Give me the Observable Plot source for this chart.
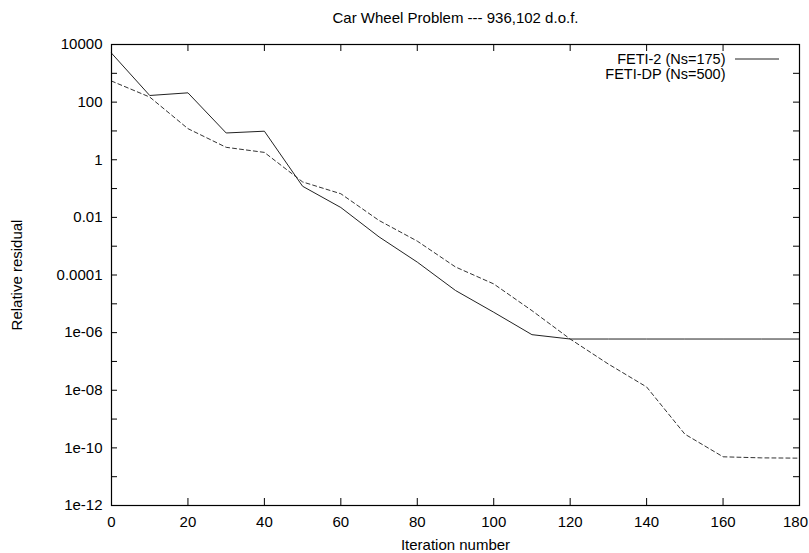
<!DOCTYPE html>
<html>
<head>
<meta charset="utf-8">
<script src="https://cdn.jsdelivr.net/npm/d3@7"></script>
<script src="https://cdn.jsdelivr.net/npm/@observablehq/plot@0.6"></script>
<style>
  html, body { margin: 0; padding: 0; background: #fff; }
  #chart svg { display: block; }
</style>
</head>
<body>
<div id="chart"></div>
<script>
const iterations = [0, 10, 20, 30, 40, 50, 60, 70, 80, 90, 100, 110, 120, 130, 140, 150, 160, 170, 180];
const feti2 = [5000, 170, 210, 8.5, 9.8, 0.12, 0.022, 0.0021, 2.8e-4, 2.9e-5, 5.1e-6, 8.5e-7, 6.0e-7, 6.0e-7, 6.0e-7, 6.0e-7, 6.0e-7, 6.0e-7, 6.0e-7];
const fetiDP = [540, 150, 12, 2.7, 1.8, 0.17, 0.066, 0.0078, 0.0015, 1.9e-4, 4.9e-5, 5.8e-6, 6.0e-7, 8.1e-8, 1.3e-8, 3.0e-10, 4.9e-11, 4.5e-11, 4.4e-11];
const seriesNames = ["FETI-2 (Ns=175)", "FETI-DP (Ns=500)"];
const xTicks = [0, 20, 40, 60, 80, 100, 120, 140, 160, 180];
const yTickValues = [1e4, 1e2, 1, 1e-2, 1e-4, 1e-6, 1e-8, 1e-10, 1e-12];
const yTickLabels = ["10000", "100", "1", "0.01", "0.0001", "1e-06", "1e-08", "1e-10", "1e-12"];
const yMinorTicks = [1e3, 1e1, 1e-1, 1e-3, 1e-5, 1e-7, 1e-9, 1e-11];
const titleText = "Car Wheel Problem --- 936,102 d.o.f.";
const xLabel = "Iteration number";
const yLabel = "Relative residual";

const W = 809, H = 553;
const mL = 111, mR = 10, mT = 44, mB = 48;
const innerW = W - mL - mR, innerH = H - mT - mB;
const tickLen = 6;

const dataA = iterations.map((x, i) => ({x, y: feti2[i]}));
const dataB = iterations.map((x, i) => ({x, y: fetiDP[i]}));
const allY = yTickValues.concat(yMinorTicks);
const innerX = xTicks.slice(1, -1);
const xLabelsMain = xTicks.slice(0, -1);
const xLabelsLast = xTicks.slice(-1);

const font = "'Liberation Sans', Arial, Helvetica, sans-serif";

const plot = Plot.plot({
  width: W, height: H,
  marginLeft: mL, marginRight: mR, marginTop: mT, marginBottom: mB,
  style: {fontFamily: font, fontSize: "15px", background: "#fff", color: "#000"},
  x: {domain: [0, 180], ticks: xTicks},
  y: {type: "log", domain: [1e-12, 1e4]},
  marks: [
    // inward ticks (gnuplot style, mirrored)
    Plot.tickY(allY, {y: d => d, insetRight: innerW - tickLen, stroke: "#000", strokeWidth: 1}),
    Plot.tickY(allY, {y: d => d, insetLeft: innerW - tickLen, stroke: "#000", strokeWidth: 1}),
    Plot.tickX(innerX, {x: d => d, insetTop: innerH - tickLen - 1, stroke: "#000", strokeWidth: 1}),
    Plot.tickX(innerX, {x: d => d, insetBottom: innerH - tickLen - 1, stroke: "#000", strokeWidth: 1}),
    Plot.axisX({ticks: xLabelsMain, tickSize: 0, tickPadding: 11, tickFormat: d => String(d), label: null, fontSize: 15}),
    Plot.axisX({ticks: xLabelsLast, tickSize: 0, tickPadding: 11, dx: -4, tickFormat: d => String(d), label: null, fontSize: 15}),
    Plot.axisY({ticks: yTickValues, tickSize: 0, tickPadding: 9, tickFormat: d => yTickLabels[yTickValues.indexOf(d)], label: null, fontSize: 15}),
    Plot.line(dataB, {x: "x", y: "y", stroke: "#333", strokeWidth: 1, strokeDasharray: "4,3"}),
    Plot.line(dataA, {x: "x", y: "y", stroke: "#222", strokeWidth: 1}),
    Plot.frame({stroke: "#000", strokeWidth: 1.2}),
    Plot.text([titleText], {frameAnchor: "top", dy: -26, lineAnchor: "middle", textAnchor: "middle", text: d => d, fontSize: 15}),
    Plot.text([xLabel], {frameAnchor: "bottom", dy: 40, lineAnchor: "middle", textAnchor: "middle", text: d => d, fontSize: 15}),
    Plot.text([yLabel], {frameAnchor: "left", dx: -94, rotate: -90, lineAnchor: "middle", textAnchor: "middle", text: d => d, fontSize: 15}),
    Plot.text([seriesNames[0]], {frameAnchor: "top-right", dx: -74, dy: 15, lineAnchor: "middle", textAnchor: "end", text: d => d, fontSize: 14.5}),
    Plot.text([seriesNames[1]], {frameAnchor: "top-right", dx: -74, dy: 30, lineAnchor: "middle", textAnchor: "end", text: d => d, fontSize: 14.5})
  ]
});

// legend swatch for the solid series
d3.select(plot).append("line")
  .attr("x1", W - mR - 64).attr("x2", W - mR - 20)
  .attr("y1", mT + 15).attr("y2", mT + 15)
  .attr("stroke", "#222").attr("stroke-width", 1);

document.getElementById("chart").appendChild(plot);
</script>
</body>
</html>
